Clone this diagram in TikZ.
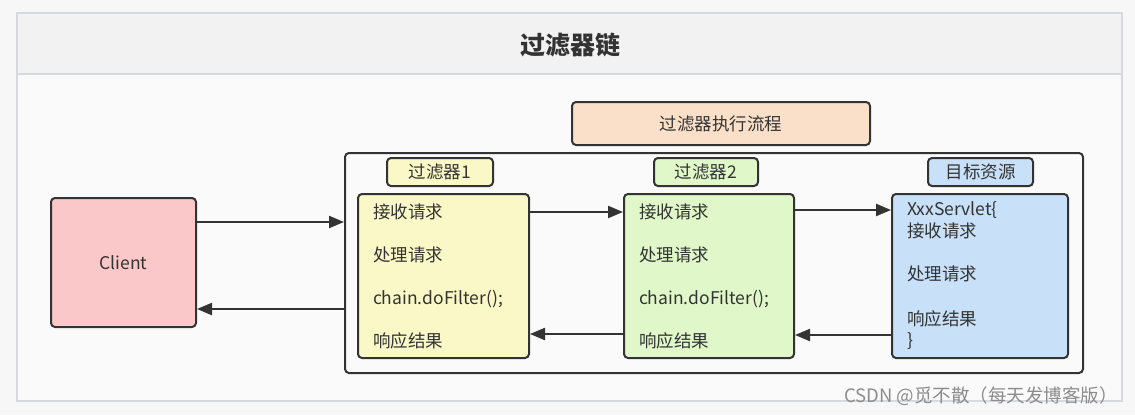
\documentclass[tikz,border=0pt]{standalone}
\usepackage{fontspec}
\setmainfont{Noto Sans CJK SC}
\usepackage{tikz}
\usetikzlibrary{calc,arrows.meta,positioning}
\usepackage{xcolor}
\definecolor{ink}{HTML}{333333}
\definecolor{frameline}{HTML}{D6D9DD}
\definecolor{clientfill}{HTML}{FAC8C9}
\definecolor{yellowfill}{HTML}{F9F8C6}
\definecolor{greenfill}{HTML}{E0F8C9}
\definecolor{bluefill}{HTML}{C8E0F8}
\definecolor{orangefill}{HTML}{FAE0C8}
\tikzset{
	box/.style={draw=ink,line width=2pt,rounded corners=4pt,text=ink,font=\fontsize{17.5}{21.5}\selectfont},
	tag/.style={box,minimum height=28pt,inner sep=0pt},
	stage/.style={box,minimum height=164pt,align=left,inner xsep=15pt},
	arr/.style={draw=ink,line width=2.2pt,-{Triangle[length=15pt,width=12pt]}}
}

\begin{document}
\begin{tikzpicture}[x=1pt,y=-1pt]
		\useasboundingbox[fill=black!3] (0,0) rectangle (1135,415);
		% outer frame and title band
		\draw[frameline,line width=2pt,fill=black!2] (17,13) rectangle (1122,401);
		\draw[frameline,line width=2pt,fill=black!5] (17,13) rectangle (1122,74);
		\node[text=ink,font=\fontsize{25}{28}\selectfont\bfseries] (title) at (570,45) {过滤器链};
		% boxes
		\node[box,fill=clientfill,minimum width=145pt,minimum height=129pt] (cl) at (123.5,262.5) {Client};
		\node[box,fill=orangefill,minimum width=298pt,minimum height=43pt] (flow) at (721,123.5) {过滤器执行流程};
		\node[box,minimum width=738pt,minimum height=220pt] (main) at (714,263) {};
		\node[tag,fill=yellowfill,minimum width=106pt] (lab1) at (440,172) {过滤器1};
		\node[tag,fill=greenfill,minimum width=104pt] (lab2) at (706,172) {过滤器2};
		\node[tag,fill=bluefill,minimum width=105pt] (lab3) at (980.5,172) {目标资源};
		\node[stage,fill=yellowfill,text width=141pt] (f1) at (443.5,276)
			{接收请求\\[21.5pt]处理请求\\[21.5pt]chain.doFilter();\\[21.5pt]响应结果};
		\node[stage,fill=greenfill,text width=140pt] (f2) at (709,276)
			{接收请求\\[21.5pt]处理请求\\[21.5pt]chain.doFilter();\\[21.5pt]响应结果};
		\node[stage,fill=bluefill,text width=146pt] (tgt) at (980,276)
			{XxxServlet\{\\接收请求\\[22pt]处理请求\\[23pt]响应结果\\\}};
		% request and response arrows
		\foreach \s/\t/\d in {cl/main/40.5,f1/f2/64,f2/tgt/66}
		\draw[arr] ([yshift=\d pt]\s.east) -- ([yshift=\d pt]\s.east -| \t.west);
		\foreach \s/\t/\d in {main/cl/-46.5,f2/f1/-58,tgt/f2/-59}
		\draw[arr] ([yshift=\d pt]\t.east -| \s.west) -- ([yshift=\d pt]\t.east);
		\node[text=black!45,font=\fontsize{18.5}{20}\selectfont] (wm) at (981,396) {CSDN @觅不散（每天发博客版）};
	\end{tikzpicture}
\end{document}
